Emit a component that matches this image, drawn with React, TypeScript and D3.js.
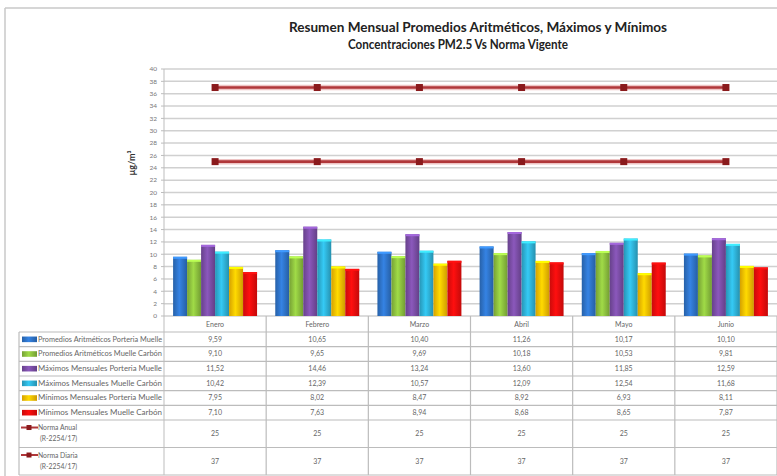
import React from 'react';
import * as d3 from 'd3';

const months = ['Enero', 'Febrero', 'Marzo', 'Abril', 'Mayo', 'Junio'];

const seriesNames = [
  'Promedios Aritméticos Porteria Muelle',
  'Promedios Aritméticos Muelle Carbón',
  'Máximos Mensuales Porteria Muelle',
  'Máximos Mensuales Muelle Carbón',
  'Mínimos Mensuales Porteria Muelle',
  'Mínimos Mensuales Muelle Carbón',
];

const promPorteria = [9.59, 10.65, 10.4, 11.26, 10.17, 10.1];
const promCarbon = [9.1, 9.65, 9.69, 10.18, 10.53, 9.81];
const maxPorteria = [11.52, 14.46, 13.24, 13.6, 11.85, 12.59];
const maxCarbon = [10.42, 12.39, 10.57, 12.09, 12.54, 11.68];
const minPorteria = [7.95, 8.02, 8.47, 8.92, 6.93, 8.11];
const minCarbon = [7.1, 7.63, 8.94, 8.68, 8.65, 7.87];

const normaAnual = [25, 25, 25, 25, 25, 25];
const normaDiaria = [37, 37, 37, 37, 37, 37];

const yTicks = d3.range(0, 41, 2);

const seriesValues = [promPorteria, promCarbon, maxPorteria, maxCarbon, minPorteria, minCarbon];
const colors = ['#2f74c9', '#8dc13f', '#7b4ea6', '#2fb2d8', '#ffc000', '#f20d0d'];

const fmt = (v: number) => v.toFixed(2).replace('.', ',');

const W = 777;
const H = 476;
const plotLeft = 164;
const plotRight = 777;
const yTop = 69;
const yBottom = 316;
const tableLeft = 19;
const headerBottom = 332;
const rowH = 14.67;
const normaRowH = 27.5;

const font = 'Lato, "Open Sans", sans-serif';
const textColor = '#666';

export default function App() {
  const x = d3.scaleBand<string>().domain(months).range([plotLeft, plotRight]);
  const xs = d3
    .scaleBand<string>()
    .domain(seriesNames)
    .range([0, x.bandwidth()])
    .paddingInner(0)
    .paddingOuter(0.65);
  const y = d3.scaleLinear().domain([0, 40]).range([yBottom, yTop]);

  const line = d3
    .line<number>()
    .x((_, i) => (x(months[i]) as number) + x.bandwidth() / 2)
    .y((d) => y(d));

  const dataRowsEnd = headerBottom + rowH * 6;
  const rowTops = [
    ...d3.range(6).map((i) => headerBottom + i * rowH),
    dataRowsEnd,
    dataRowsEnd + normaRowH,
  ];
  const tableBottom = dataRowsEnd + normaRowH * 2;

  const lineColor = '#b0373a';
  const markerColor = '#8a1a1c';

  return (
    <svg
      width={W}
      height={H}
      style={{ position: 'absolute', left: 0, top: 0, background: '#fff' }}
    >
      <defs>
        {colors.map((c, i) => (
          <linearGradient key={i} id={`g${i}`} x1="0" x2="1" y1="0" y2="0">
            <stop offset="0%" stopColor={d3.color(c)!.darker(0.5).toString()} />
            <stop offset="45%" stopColor={d3.color(c)!.brighter(0.35).toString()} />
            <stop offset="100%" stopColor={d3.color(c)!.darker(0.6).toString()} />
          </linearGradient>
        ))}
      </defs>

      {/* outer frame */}
      <line x1={5} x2={W} y1={8} y2={8} stroke="#c8c8c8" strokeWidth={1.5} />
      <line x1={5} x2={5} y1={8} y2={H} stroke="#c8c8c8" strokeWidth={1.5} />

      {/* title */}
      <text
        x={478}
        y={32}
        textAnchor="middle"
        fontFamily={font}
        fontWeight="bold"
        fontSize={12.5}
        fill="#222"
        textLength={378}
        lengthAdjust="spacingAndGlyphs"
      >
        Resumen Mensual Promedios Aritméticos, Máximos y Mínimos
      </text>
      <text
        x={458}
        y={49}
        textAnchor="middle"
        fontFamily={font}
        fontWeight="bold"
        fontSize={12.5}
        fill="#222"
        textLength={220}
        lengthAdjust="spacingAndGlyphs"
      >
        Concentraciones PM2.5 Vs Norma Vigente
      </text>

      {/* gridlines + y ticks */}
      {yTicks.map((t) => (
        <g key={t}>
          <line x1={plotLeft} x2={plotRight} y1={y(t)} y2={y(t)} stroke="#d0d0d0" strokeWidth={1.5} />
          <line x1={plotLeft - 3} x2={plotLeft} y1={y(t)} y2={y(t)} stroke="#bdbdbd" />
          <text
            x={plotLeft - 7}
            y={y(t) + 2.3}
            textAnchor="end"
            fontFamily={font}
            fontSize={6.5}
            fill="#777"
          >
            {t}
          </text>
        </g>
      ))}
      <line x1={plotLeft} x2={plotLeft} y1={yTop} y2={tableBottom} stroke="#bdbdbd" />

      {/* y label */}
      <text
        transform={`translate(135,163) rotate(-90)`}
        textAnchor="middle"
        fontFamily={font}
        fontWeight="bold"
        fontSize={9}
        fill="#333"
      >
        µg/m³
      </text>

      {/* bars */}
      {seriesValues.map((vals, si) =>
        vals.map((v, mi) => {
          const bx = (x(months[mi]) as number) + (xs(seriesNames[si]) as number);
          const bw = xs.bandwidth();
          return (
            <g key={`${si}-${mi}`}>
              <rect x={bx} y={y(v)} width={bw} height={yBottom - y(v)} fill={`url(#g${si})`} />
              <rect
                x={bx}
                y={y(v)}
                width={bw}
                height={2}
                fill={d3.color(colors[si])!.brighter(0.8).toString()}
              />
            </g>
          );
        })
      )}

      {/* norma lines */}
      {[normaAnual, normaDiaria].map((vals, li) => (
        <g key={li}>
          <path d={line(vals) || ''} fill="none" stroke="#eec4c4" strokeWidth={5.5} />
          <path d={line(vals) || ''} fill="none" stroke={lineColor} strokeWidth={2.6} />
          {vals.map((v, i) => (
            <rect
              key={i}
              x={(x(months[i]) as number) + x.bandwidth() / 2 - 3.5}
              y={y(v) - 3.5}
              width={7}
              height={7}
              fill={markerColor}
            />
          ))}
        </g>
      ))}

      {/* data table */}
      <g stroke="#bcbcbc" strokeWidth={1.2}>
        {rowTops.map((ry, i) => (
          <line key={i} x1={tableLeft} x2={plotRight} y1={ry} y2={ry} />
        ))}
        <line x1={tableLeft} x2={plotRight} y1={tableBottom} y2={tableBottom} />
        <line x1={tableLeft} x2={tableLeft} y1={headerBottom} y2={tableBottom} />
        {months.map((m) => (
          <line
            key={m}
            x1={(x(m) as number) + x.bandwidth()}
            x2={(x(m) as number) + x.bandwidth()}
            y1={yBottom}
            y2={tableBottom}
          />
        ))}
      </g>

      {/* header row */}
      {months.map((m) => (
        <text
          key={m}
          x={(x(m) as number) + x.bandwidth() / 2}
          y={327}
          textAnchor="middle"
          fontFamily={font}
          fontSize={7}
          fill={textColor}
        >
          {m}
        </text>
      ))}

      {/* series rows */}
      {seriesNames.map((name, si) => {
        const top = headerBottom + si * rowH;
        const cy = top + rowH / 2;
        return (
          <g key={name}>
            <rect x={22} y={cy - 2.8} width={15} height={5.6} fill={`url(#g${si})`} />
            <text x={38} y={cy + 2.4} fontFamily={font} fontSize={6.8} fill={textColor} textLength={124} lengthAdjust="spacingAndGlyphs">
              {name}
            </text>
            {seriesValues[si].map((v, mi) => (
              <text
                key={mi}
                x={(x(months[mi]) as number) + x.bandwidth() / 2}
                y={cy + 2.4}
                textAnchor="middle"
                fontFamily={font}
                fontSize={7}
                fill={textColor}
              >
                {fmt(v)}
              </text>
            ))}
          </g>
        );
      })}

      {/* norma rows */}
      {[
        { label: 'Norma Anual', vals: normaAnual },
        { label: 'Norma Diaria', vals: normaDiaria },
      ].map((r, ri) => {
        const top = dataRowsEnd + ri * normaRowH;
        return (
          <g key={r.label}>
            <line x1={21} x2={38} y1={top + 7.5} y2={top + 7.5} stroke={lineColor} strokeWidth={2} />
            <rect x={26.5} y={top + 5} width={5} height={5} fill={markerColor} />
            <text x={38} y={top + 10} fontFamily={font} fontSize={6.8} fill={textColor}>
              {r.label}
            </text>
            <text x={40} y={top + 21} fontFamily={font} fontSize={6.8} fill={textColor}>
              (R-2254/17)
            </text>
            {r.vals.map((v, mi) => (
              <text
                key={mi}
                x={(x(months[mi]) as number) + x.bandwidth() / 2}
                y={top + normaRowH / 2 + 2.4}
                textAnchor="middle"
                fontFamily={font}
                fontSize={7}
                fill={textColor}
              >
                {v}
              </text>
            ))}
          </g>
        );
      })}
    </svg>
  );
}
